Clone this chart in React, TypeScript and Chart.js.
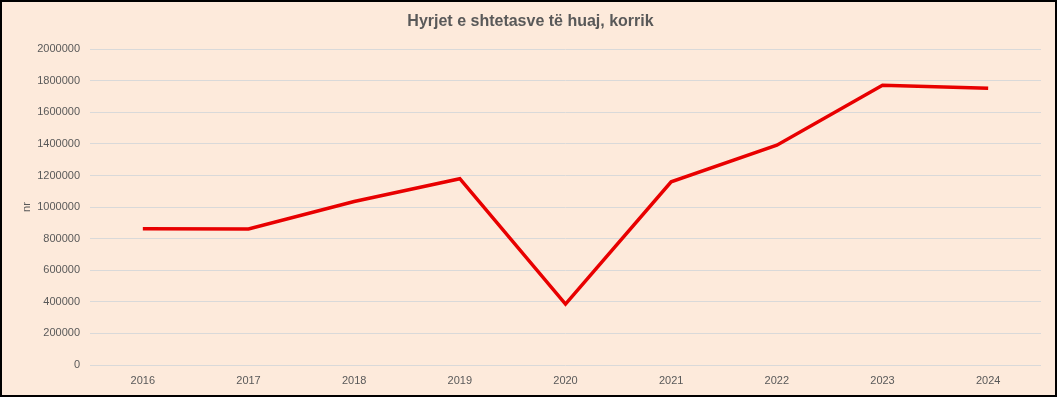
import React, { useEffect, useRef } from "react";
import { Chart, registerables } from "chart.js";

Chart.register(...registerables);

const years = ["2016", "2017", "2018", "2019", "2020", "2021", "2022", "2023", "2024"];
const arrivals = [863000, 862000, 1035000, 1180000, 386000, 1160000, 1392000, 1772000, 1753000];
const chartTitle = "Hyrjet e shtetasve të huaj, korrik";
const yTitle = "nr";

const FONT = "'Liberation Sans', Arial, sans-serif";

export default function App() {
  const ref = useRef<HTMLCanvasElement | null>(null);
  useEffect(() => {
    if (!ref.current) return;
    const chart = new Chart(ref.current, {
      type: "line",
      data: {
        labels: years,
        datasets: [
          {
            data: arrivals,
            borderColor: "#e80000",
            borderWidth: 3.5,
            pointRadius: 0,
            tension: 0,
            fill: false,
          },
        ],
      },
      options: {
        animation: false,
        responsive: false,
        maintainAspectRatio: false,
        layout: { padding: { left: 18, right: 14, top: 0, bottom: 0 } },
        plugins: {
          legend: { display: false },
          tooltip: { enabled: false },
          title: {
            display: true,
            text: chartTitle,
            color: "#595959",
            font: { family: FONT, size: 16, weight: "bold" },
            padding: { top: 10, bottom: 18 },
          },
        },
        scales: {
          x: {
            offset: true,
            grid: { display: false, drawTicks: false, offset: true },
            border: { display: false },
            ticks: { color: "#595959", font: { family: FONT, size: 11 }, padding: 9 },
            afterFit: (s: any) => {
              s.height = 30;
            },
          },
          y: {
            min: 0,
            max: 2000000,
            grid: { color: "#d9d9d9", drawTicks: false, lineWidth: 1 },
            border: { display: false },
            ticks: {
              stepSize: 200000,
              color: "#595959",
              font: { family: FONT, size: 11 },
              padding: 10,
              callback: (v: any) => String(v),
            },
            title: {
              display: true,
              text: yTitle,
              color: "#595959",
              font: { family: FONT, size: 11 },
              padding: 0,
            },
            afterFit: (s: any) => {
              s.width = 70;
            },
          },
        },
      },
    });
    return () => chart.destroy();
  }, []);
  return (
    <div
      style={{
        position: "fixed",
        left: 0,
        top: 0,
        width: 1057,
        height: 397,
        boxSizing: "border-box",
        border: "2px solid #000",
        background: "#fdeadb",
      }}
    >
      <canvas ref={ref} width={1053} height={393} style={{ display: "block" }} />
    </div>
  );
}
